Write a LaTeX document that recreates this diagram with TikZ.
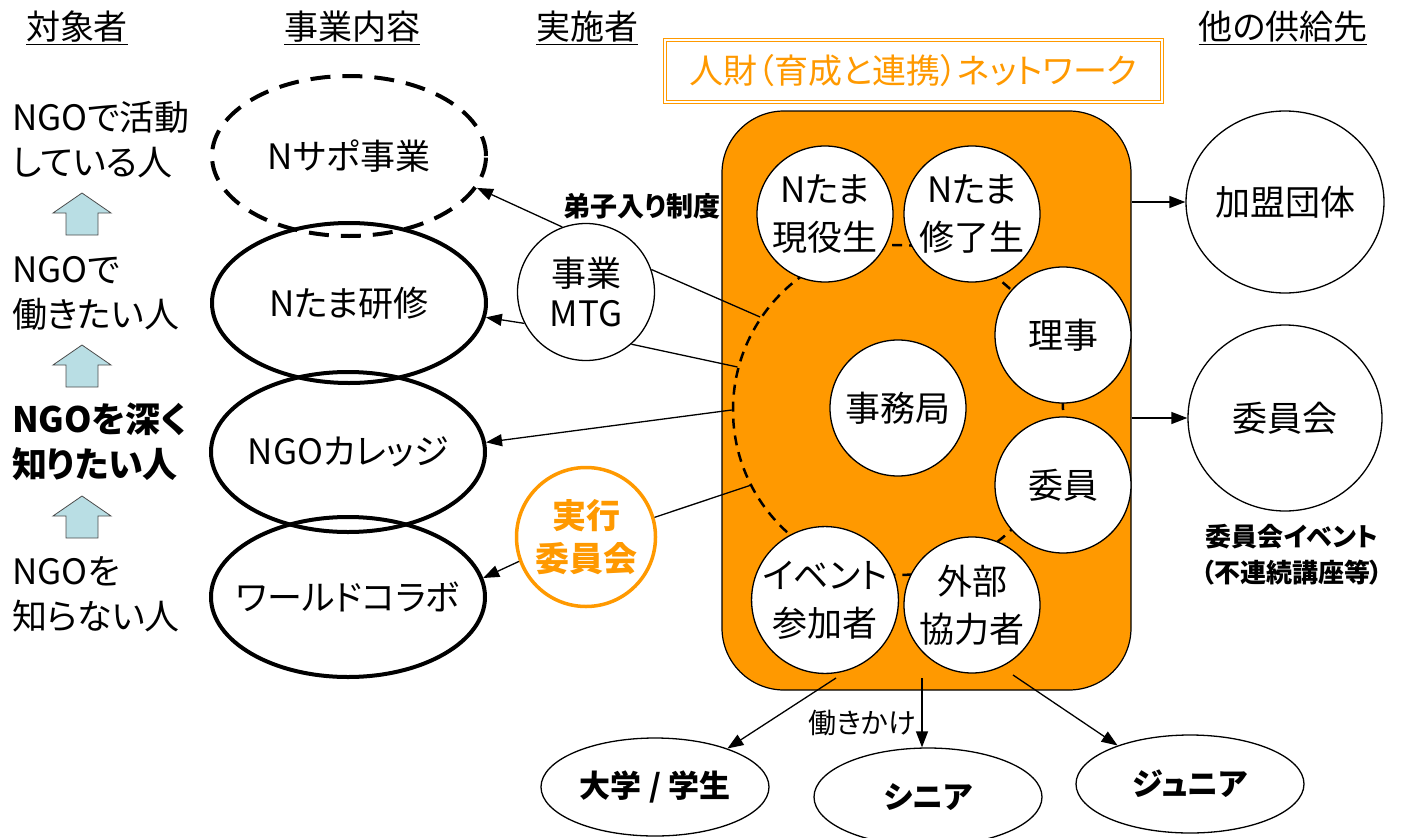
\documentclass[tikz,border=0pt]{standalone}
\usepackage{fontspec}
\setmainfont{Noto Sans CJK JP}[RawFeature=+palt]
\usetikzlibrary{shapes.geometric,arrows.meta}
\definecolor{netorange}{RGB}{255,153,0}
\definecolor{stepblue}{RGB}{185,222,228}

\begin{document}
\begin{tikzpicture}[x=1pt,y=-1pt,font=\fontsize{35}{42}\selectfont]
\tikzstyle{head text}=[font=\fontsize{34}{40}\selectfont,inner sep=0]
\tikzstyle{target text}=[anchor=west,align=left,inner sep=0,font=\fontsize{35}{45}\selectfont]
\tikzstyle{step arrow}=[fill=stepblue,draw=black!70,line width=0.8pt]
\tikzstyle{work node}=[ellipse,draw,line width=4pt,minimum width=274pt,minimum height=160pt,inner sep=0]
\tikzstyle{actor node}=[circle,draw,fill=white,line width=1.3pt,minimum size=137pt,inner sep=0,align=center,font=\fontsize{35}{40}\selectfont]
\tikzstyle{member node}=[circle,draw,fill=white,line width=1.3pt,minimum size=136pt,inner sep=0,align=center,font=\fontsize{35}{48}\selectfont]
\tikzstyle{supply node}=[ellipse,draw,line width=1.3pt,minimum width=194pt,minimum height=182pt,inner sep=0]
\tikzstyle{reach node}=[ellipse,draw,line width=1.3pt,minimum width=228pt,minimum height=98pt,inner sep=0,font=\fontsize{31}{34}\selectfont\bfseries]
\tikzstyle{small text}=[inner sep=0,align=center,font=\fontsize{26}{36}\selectfont\bfseries]
\tikzstyle{link}=[line width=1.3pt]
\tikzstyle{link arrow}=[link,-{Triangle[length=16pt,width=12pt]}]
\useasboundingbox (0,0) rectangle (1406,838);

% headings
\node[head text] (h1) at (77,28) {\underline{対象者}};
\node[head text] (h2) at (352,28) {\underline{事業内容}};
\node[head text] (h3) at (587,28) {\underline{実施者}};
\node[head text] (h4) at (1283,28) {\underline{他の供給先}};

% target people
\node[target text] (t1) at (12,140) {NGOで活動\\している人};
\node[target text] (t2) at (12,293) {NGOで\\働きたい人};
\node[target text,font=\fontsize{35}{45}\selectfont\bfseries] (t3) at (12,442) {NGOを深く\\知りたい人};
\node[target text] (t4) at (12,594) {NGOを\\知らない人};
\foreach \top in {193,345,496}
  \draw[step arrow] (66,{\top+42}) -- (66,{\top+20}) -- (53,{\top+20}) -- (82,\top)
    -- (111,{\top+20}) -- (98,{\top+20}) -- (98,{\top+42}) -- cycle;

% works
\node[work node,dash pattern=on 20pt off 12pt] (nsapo) at (349,156) {Nサポ事業};
\node[work node] (kenshu) at (349,303) {Nたま研修};
\node[work node] (college) at (348,452) {\makebox[0pt]{NGOカレッジ}};
\node[work node] (world) at (348,597) {\makebox[0pt]{ワールドコラボ}};

% network
\node[draw,fill=netorange,line width=1.2pt,rounded corners=62pt,minimum width=409pt,minimum height=579pt] (net) at (926.5,400.5) {};
\node[draw=netorange,double=white,double distance=2pt,line width=1.2pt,minimum width=497pt,minimum height=62pt,text=netorange,font=\fontsize{34}{40}\selectfont] (title) at (913.5,71) {人財（育成と連携）ネットワーク};
\node[circle,draw,dashed,line width=2.5pt,dash pattern=on 10pt off 7pt,minimum size=330pt] (ring) at (898,410) {};
\node[member node] (genneki) at (825,214) {Nたま\\現役生};
\node[member node] (shuryo) at (972,214) {Nたま\\修了生};
\node[member node] (riji) at (1063,335) {理事};
\node[member node] (jimu) at (898,408) {事務局};
\node[member node] (iin) at (1063,485) {委員};
\node[member node] (event) at (825,600) {イベント\\参加者};
\node[member node] (gaibu) at (972,605) {外部\\協力者};

% actors
\node[actor node] (mtg) at (586,292) {事業\\MTG};
\node[circle,draw=netorange,line width=3.5pt,minimum size=139pt,inner sep=0,align=center,text=netorange,font=\fontsize{34}{43}\selectfont\bfseries] (jikko) at (586,537) {実行\\委員会};
\node[small text,font=\fontsize{27}{36}\selectfont\bfseries] (deshi) at (642,206) {弟子入り制度};

\draw[link] (ring.146) -- (mtg.19);
\draw[link] (ring.165) -- (mtg.-49);
\draw[link arrow] (mtg.110) -- (nsapo.-14);
\draw[link arrow] (mtg.207) -- (kenshu.-6);
\draw[link arrow] (ring.180) -- (college.4);
\draw[link] (ring.207) -- (jikko.16);
\draw[link arrow] (jikko.200) -- (world.8);

% other suppliers
\node[supply node] (kamei) at (1285,202) {加盟団体};
\node[supply node,minimum height=186pt] (iinkai) at (1285,418) {委員会};
\draw[link arrow] (net.east |- kamei) -- (kamei);
\draw[link arrow] (net.east |- iinkai) -- (iinkai);
\node[small text] (iinevent) at (1292,555) {委員会イベント\\（不連続講座等）};

% outreach
\node[reach node] (daigaku) at (655,787) {大学 / 学生};
\node[reach node] (senior) at (928,797) {シニア};
\node[reach node] (junior) at (1190,784) {ジュニア};
\coordinate (pull a) at (836,678);
\coordinate (pull b) at (922,678);
\coordinate (pull c) at (1013,675);
\draw[link arrow] (pull a) -- (daigaku.28);
\draw[link arrow] (pull b) -- (pull b |- senior.north);
\draw[link arrow] (pull c) -- (junior.152);
\node[inner sep=0,font=\fontsize{28}{30}\selectfont] (hataraki) at (862,723) {働きかけ};
\end{tikzpicture}
\end{document}
